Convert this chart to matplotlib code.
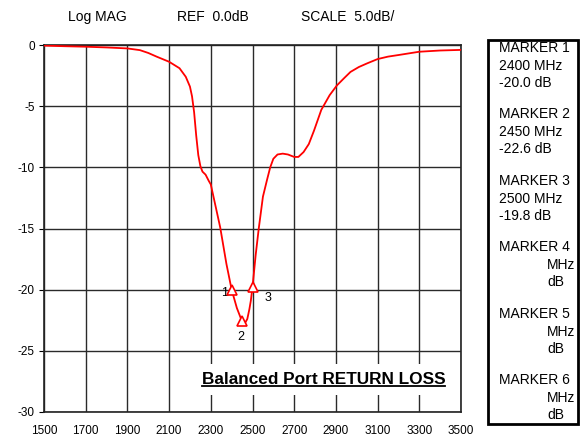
import matplotlib.pyplot as plt
from matplotlib.patches import Rectangle
from matplotlib.lines import Line2D

plt.rcParams['font.family'] = ['Liberation Sans', 'DejaVu Sans']
plt.rcParams['axes.unicode_minus'] = False

# trace (MHz, dB)
freq = [1500, 1600, 1700, 1800, 1900, 1960, 2000, 2040, 2100, 2150, 2180, 2200,
        2210, 2220, 2230, 2240, 2250, 2260, 2275, 2290, 2300, 2345, 2375, 2400,
        2425, 2450, 2465, 2475, 2485, 2492, 2500, 2515, 2530, 2550, 2570, 2585,
        2600, 2620, 2645, 2670, 2700, 2720, 2745, 2770, 2795, 2830, 2870, 2905,
        2940, 2970, 3010, 3050, 3100, 3150, 3200, 3300, 3400, 3500]
mag = [-0.05, -0.1, -0.14, -0.2, -0.28, -0.42, -0.65, -0.95, -1.37, -1.9, -2.6, -3.4,
       -4.2, -5.5, -7.4, -9.0, -9.9, -10.35, -10.6, -11.1, -11.4, -14.9, -17.9, -20.0,
       -21.5, -22.6, -22.7, -22.4, -21.6, -20.9, -19.8, -17.2, -15.0, -12.4, -11.0, -10.0,
       -9.3, -8.95, -8.88, -8.95, -9.15, -9.15, -8.75, -8.1, -7.0, -5.3, -4.1, -3.3,
       -2.7, -2.2, -1.8, -1.5, -1.15, -0.95, -0.82, -0.55, -0.45, -0.4]

mk_freq = [2400, 2450, 2500]
mk_db = [-20.0, -22.6, -19.8]
mk_names = ['1', '2', '3']

xticks = [1500, 1700, 1900, 2100, 2300, 2500, 2700, 2900, 3100, 3300, 3500]
yticks = [0, -5, -10, -15, -20, -25, -30]

fig = plt.figure(figsize=(5.82, 4.37), dpi=100)
ax = fig.add_axes([44/582, 1-412/437, 417/582, 367/437])

ax.plot(freq, mag, color='red', lw=1.3, zorder=3)
ax.plot(mk_freq, mk_db, ls='none', marker='^', ms=6.5, mfc='white',
        mec='red', mew=1.2, zorder=4)
ax.text(2385, -20.25, mk_names[0], fontsize=9, ha='right', va='center')
ax.text(2445, -23.9, mk_names[1], fontsize=9, ha='center', va='center')
ax.text(2575, -20.7, mk_names[2], fontsize=9, ha='center', va='center')

ax.set_xlim(1500, 3500)
ax.set_ylim(-30, 0)
ax.set_xticks(xticks)
ax.set_yticks(yticks)
ax.grid(True, color='#2a2a2a', lw=1)
ax.set_axisbelow(True)
ax.tick_params(axis='x', length=0, pad=9, labelsize=8.5)
ax.tick_params(axis='y', length=3.5, pad=3, labelsize=8.5)
for s in ax.spines.values():
    s.set_color('#222222')
    s.set_linewidth(1.2)

t = ax.text(2840, -27.35, 'Balanced Port RETURN LOSS', fontsize=12.4, fontweight='bold',
            ha='center', va='center', zorder=5,
            bbox=dict(facecolor='white', edgecolor='none', pad=6))

# header
fig.text(68/582, 1-17/437, 'Log MAG', fontsize=10, va='center')
fig.text(177/582, 1-17/437, 'REF  0.0dB', fontsize=10, va='center')
fig.text(301/582, 1-17/437, 'SCALE  5.0dB/', fontsize=10, va='center')

# marker table on the right
fig.patches.append(Rectangle((488/582, 1-424/437), 90/582, 384/437,
                             transform=fig.transFigure, fill=False,
                             edgecolor='black', lw=2))
rows = [('MARKER 1', '2400 MHz', '-20.0 dB'),
        ('MARKER 2', '2450 MHz', '-22.6 dB'),
        ('MARKER 3', '2500 MHz', '-19.8 dB'),
        ('MARKER 4', '', ''),
        ('MARKER 5', '', ''),
        ('MARKER 6', '', '')]
for i, (a, b, c) in enumerate(rows):
    y0 = 48 + 66.4 * i
    fig.text(499/582, 1-y0/437, a, fontsize=10, va='center')
    if b:
        fig.text(499/582, 1-(y0+18)/437, b, fontsize=10, va='center')
        fig.text(499/582, 1-(y0+35)/437, c, fontsize=10, va='center')
    else:
        fig.text(547/582, 1-(y0+18)/437, 'MHz', fontsize=10, va='center')
        fig.text(547/582, 1-(y0+35)/437, 'dB', fontsize=10, va='center')

# underline the title
fig.canvas.draw()
bb = t.get_window_extent()
fig.lines.append(Line2D([bb.x0, bb.x1], [bb.y0 + 1, bb.y0 + 1], color='black',
                        lw=1.3, transform=None, zorder=6))

fig.savefig('out.png', dpi=100)
